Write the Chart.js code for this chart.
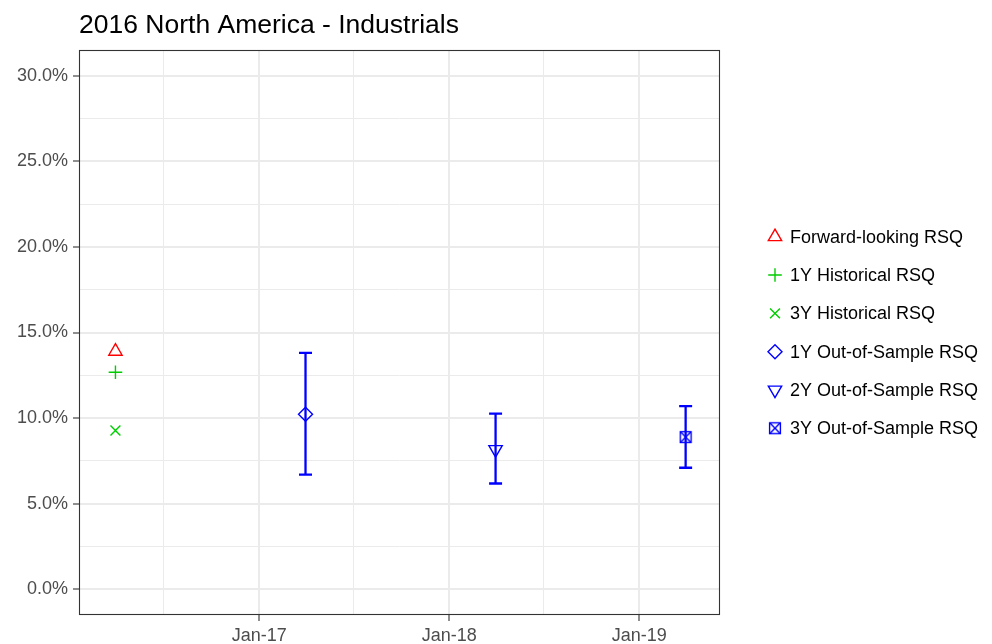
<!DOCTYPE html>
<html>
<head>
<meta charset="utf-8">
<title>2016 North America - Industrials</title>
<script src="https://cdn.jsdelivr.net/npm/chart.js@4.4.1/dist/chart.umd.min.js"></script>
<style>
  html, body { margin: 0; padding: 0; background: #fff; }
  #wrap { width: 992px; height: 644px; }
</style>
</head>
<body>
<div id="wrap"><canvas id="rsqChart"></canvas></div>
<script>
/* ── Data ────────────────────────────────────────────── */
const TITLE = '2016 North America - Industrials';

const seriesNames = [
  'Forward-looking RSQ',
  '1Y Historical RSQ',
  '3Y Historical RSQ',
  '1Y Out-of-Sample RSQ',
  '2Y Out-of-Sample RSQ',
  '3Y Out-of-Sample RSQ',
];
const seriesDates = ['2016-03-31', '2016-03-31', '2016-03-31', '2017-03-31', '2018-03-31', '2019-03-31'];
const seriesValues = [13.9, 12.68, 9.28, 10.22, 8.17, 8.89];   // percent
const errLow = [null, null, null, 6.70, 6.18, 7.10];
const errHigh = [null, null, null, 13.81, 10.26, 10.70];

const xTickDates = ['2016-07-01', '2017-01-01', '2017-07-01', '2018-01-01', '2018-07-01', '2019-01-01'];
const xTickLabels = ['', 'Jan-17', '', 'Jan-18', '', 'Jan-19'];
const yTicks = [0, 2.5, 5, 7.5, 10, 12.5, 15, 17.5, 20, 22.5, 25, 27.5, 30];
const yTickLabels = ['0.0%', '', '5.0%', '', '10.0%', '', '15.0%', '', '20.0%', '', '25.0%', '', '30.0%'];

/* ── Styling ─────────────────────────────────────────── */
const FONT = "'Liberation Sans', Arial, sans-serif";
const COLORS = {
  red: '#FF0000',
  green: '#00CD00',
  blue: '#0000FF',
  grid: '#EBEBEB',
  border: '#333333',
  tick: '#4D4D4D',
};
const MARK_W = 1.4;

const ts = d => Date.parse(d);

// square with an X inside (ggplot shape 7)
function boxedCross(color) {
  const s = 14;
  const c = document.createElement('canvas');
  c.width = s; c.height = s;
  const g = c.getContext('2d');
  g.strokeStyle = color;
  g.lineWidth = MARK_W;
  const a = 1.6, b = 12.4;
  g.strokeRect(a, a, b - a, b - a);
  g.beginPath();
  g.moveTo(a, a); g.lineTo(b, b);
  g.moveTo(b, a); g.lineTo(a, b);
  g.stroke();
  return c;
}

const MARKERS = [
  { pointStyle: 'triangle', rotation: 0, radius: 7.7, color: COLORS.red },
  { pointStyle: 'cross', rotation: 0, radius: 6.8, color: COLORS.green },
  { pointStyle: 'crossRot', rotation: 0, radius: 7, color: COLORS.green },
  { pointStyle: 'rectRot', rotation: 0, radius: 7, color: COLORS.blue },
  { pointStyle: 'triangle', rotation: 180, radius: 7.7, color: COLORS.blue },
  { pointStyle: boxedCross(COLORS.blue), rotation: 0, radius: 7, color: COLORS.blue },
];

/* ── Plugins ─────────────────────────────────────────── */
const errorBars = {
  id: 'errorBars',
  beforeDatasetsDraw(chart) {
    const { ctx, scales: { x, y } } = chart;
    ctx.save();
    ctx.strokeStyle = COLORS.blue;
    ctx.lineWidth = 2.3;
    const hw = 6.5;
    seriesDates.forEach((d, i) => {
      if (errLow[i] == null) return;
      const px = x.getPixelForValue(ts(d));
      const y1 = y.getPixelForValue(errLow[i]);
      const y2 = y.getPixelForValue(errHigh[i]);
      ctx.beginPath();
      ctx.moveTo(px, y1); ctx.lineTo(px, y2);
      ctx.moveTo(px - hw, y1); ctx.lineTo(px + hw, y1);
      ctx.moveTo(px - hw, y2); ctx.lineTo(px + hw, y2);
      ctx.stroke();
    });
    ctx.restore();
  },
};

const panelDecor = {
  id: 'panelDecor',
  afterDraw(chart) {
    const { ctx, chartArea: a } = chart;
    ctx.save();
    // panel border
    ctx.strokeStyle = COLORS.border;
    ctx.lineWidth = 1.1;
    ctx.strokeRect(a.left + 0.5, a.top + 0.5, a.right - a.left - 1, a.bottom - a.top - 1);

    // title
    ctx.fillStyle = '#000';
    ctx.font = `26.5px ${FONT}`;
    ctx.textBaseline = 'alphabetic';
    ctx.textAlign = 'left';
    ctx.fillText(TITLE, a.left, 33);

    // legend
    const cy = (a.top + a.bottom) / 2;
    const step = 38.3;
    ctx.font = `18px ${FONT}`;
    ctx.textBaseline = 'middle';
    seriesNames.forEach((name, i) => {
      const y = cy + (i - (seriesNames.length - 1) / 2) * step;
      const m = MARKERS[i];
      ctx.strokeStyle = m.color;
      ctx.fillStyle = 'rgba(0,0,0,0)';
      ctx.lineWidth = MARK_W;
      Chart.helpers.drawPoint(ctx, { pointStyle: m.pointStyle, rotation: m.rotation, radius: m.radius, borderWidth: MARK_W }, a.right + 55, y);
      ctx.fillStyle = '#000';
      ctx.fillText(name, a.right + 70, y + 1);
    });
    ctx.restore();
  },
};

/* ── Chart ───────────────────────────────────────────── */
const xMajor = i => xTickLabels[i] !== '';
const yMajor = i => yTickLabels[i] !== '';

new Chart(document.getElementById('rsqChart'), {
  type: 'scatter',
  data: {
    datasets: seriesNames.map((name, i) => ({
      label: name,
      data: [{ x: ts(seriesDates[i]), y: seriesValues[i] }],
      pointStyle: MARKERS[i].pointStyle,
      rotation: MARKERS[i].rotation,
      radius: MARKERS[i].radius,
      hoverRadius: MARKERS[i].radius,
      borderColor: MARKERS[i].color,
      backgroundColor: 'rgba(0,0,0,0)',
      borderWidth: MARK_W,
      hoverBorderWidth: MARK_W,
    })),
  },
  options: {
    responsive: true,
    maintainAspectRatio: false,
    animation: false,
    layout: { padding: { top: 50, right: 272, bottom: 0, left: 0 } },
    plugins: {
      legend: { display: false },
      tooltip: { enabled: false },
      title: { display: false },
    },
    scales: {
      x: {
        type: 'linear',
        min: ts('2016-01-21'),
        max: ts('2019-06-05'),
        afterBuildTicks: s => { s.ticks = xTickDates.map(d => ({ value: ts(d) })); },
        afterFit: s => { s.height = 29; },
        border: { display: false },
        grid: {
          color: COLORS.grid,
          lineWidth: c => (xMajor(c.index) ? 2 : 1),
          tickLength: 6,
          tickColor: c => (xMajor(c.index) ? COLORS.border : 'rgba(0,0,0,0)'),
          tickWidth: 1.1,
        },
        ticks: {
          autoSkip: false,
          maxRotation: 0,
          padding: 4,
          color: COLORS.tick,
          font: { family: FONT, size: 18 },
          callback: (v, i) => xTickLabels[i],
        },
      },
      y: {
        type: 'linear',
        min: -1.5,
        max: 31.5,
        afterBuildTicks: s => { s.ticks = yTicks.map(v => ({ value: v })); },
        afterFit: s => { s.width = 79; },
        border: { display: false },
        grid: {
          color: COLORS.grid,
          lineWidth: c => (yMajor(c.index) ? 2 : 1),
          tickLength: 6,
          tickColor: c => (yMajor(c.index) ? COLORS.border : 'rgba(0,0,0,0)'),
          tickWidth: 1.1,
        },
        ticks: {
          autoSkip: false,
          padding: 5,
          color: COLORS.tick,
          font: { family: FONT, size: 18 },
          callback: (v, i) => yTickLabels[i],
        },
      },
    },
  },
  plugins: [errorBars, panelDecor],
});
</script>
</body>
</html>
